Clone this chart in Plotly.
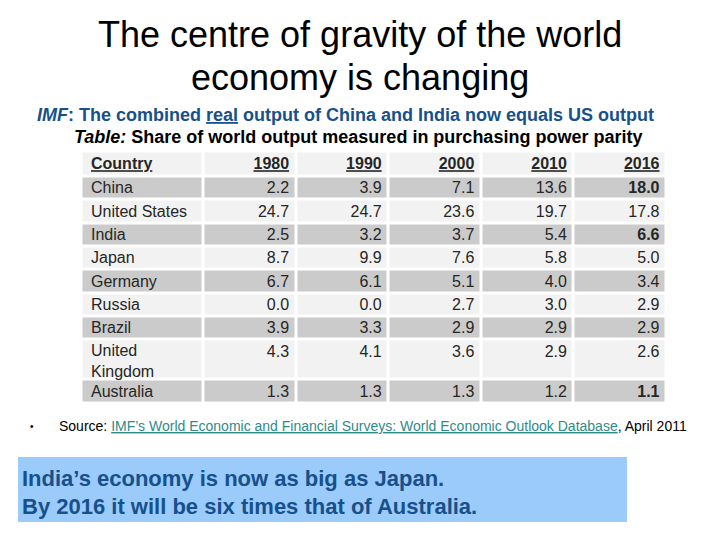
import plotly.graph_objects as go

countries = ["China", "United States", "India", "Japan", "Germany", "Russia",
             "Brazil", "United<br>Kingdom", "Australia"]
years = ["1980", "1990", "2000", "2010", "2016"]
v1980 = [2.2, 24.7, 2.5, 8.7, 6.7, 0.0, 3.9, 4.3, 1.3]
v1990 = [3.9, 24.7, 3.2, 9.9, 6.1, 0.0, 3.3, 4.1, 1.3]
v2000 = [7.1, 23.6, 3.7, 7.6, 5.1, 2.7, 2.9, 3.6, 1.3]
v2010 = [13.6, 19.7, 5.4, 5.8, 4.0, 3.0, 2.9, 2.9, 1.2]
v2016 = [18.0, 17.8, 6.6, 5.0, 3.4, 2.9, 2.9, 2.6, 1.1]
bold_2016 = ["China", "India", "Australia"]

W, H = 720, 540
def px(x): return x / W
def py(y): return 1 - y / H

FONT = "Liberation Sans, Arial, sans-serif"
GRAY = "#cbcbcb"
LIGHT = "#f2f2f2"
TXT = "#262626"

# ---- table geometry (layout only, in pixels) ----
TABLE_LEFT, TABLE_TOP = 81.5, 151.5
col_w = [122] + [92.6] * 5
row_h = [25] + [23.35] * 7 + [40, 23.3]   # header + 9 rows
LINE_H = 23.35
PAD_L, PAD_R = 9.5, 7
DY = 1.2  # small downward nudge of text inside cells

x_edges = [0]
for w in col_w:
    x_edges.append(x_edges[-1] + w)
y_edges = [0]
for h in row_h:
    y_edges.append(y_edges[-1] + h)
TW, TH = x_edges[-1], y_edges[-1]

n = len(countries)
z = [[0] * 6] + [[1 if i % 2 == 0 else 0] * 6 for i in range(n)]

fig = go.Figure()
fig.add_trace(go.Heatmap(
    x=x_edges, y=y_edges, z=z, zmin=0, zmax=1,
    colorscale=[[0, LIGHT], [1, GRAY]], showscale=False,
    xgap=3, ygap=3, hoverinfo="skip",
))

# header texts
hx = [x_edges[0] + PAD_L] + [x_edges[j + 1] - PAD_R for j in range(1, 6)]
hy = [row_h[0] / 2 + DY] * 6
fig.add_trace(go.Scatter(
    x=hx[:1], y=hy[:1], mode="text", text=["<b><u>Country</u></b>"],
    textposition="middle right", textfont=dict(family=FONT, size=16, color=TXT),
    hoverinfo="skip", showlegend=False))
fig.add_trace(go.Scatter(
    x=hx[1:], y=hy[1:], mode="text", text=[f"<b><u>{y}</u></b>" for y in years],
    textposition="middle left", textfont=dict(family=FONT, size=16, color=TXT),
    hoverinfo="skip", showlegend=False))

# country column
cy_mid = [(y_edges[i + 1] + y_edges[i + 2]) / 2 + DY for i in range(n)]
cy_top = [y_edges[i + 1] + LINE_H / 2 + DY for i in range(n)]
cy_country = [m + (1.5 if "<br>" in c else 0) for m, c in zip(cy_mid, countries)]
fig.add_trace(go.Scatter(
    x=[x_edges[0] + PAD_L] * n, y=cy_country, mode="text", text=countries,
    textposition="middle right", textfont=dict(family=FONT, size=16, color=TXT),
    hoverinfo="skip", showlegend=False))

# value columns
for j, vals in enumerate([v1980, v1990, v2000, v2010, v2016]):
    labels = []
    for c, v in zip(countries, vals):
        s = f"{v:.1f}"
        if j == 4 and c.replace("<br>", " ") in bold_2016:
            s = f"<b>{s}</b>"
        labels.append(s)
    fig.add_trace(go.Scatter(
        x=[x_edges[j + 2] - PAD_R] * n, y=cy_top, mode="text", text=labels,
        textposition="middle left", textfont=dict(family=FONT, size=16, color=TXT),
        hoverinfo="skip", showlegend=False))

# Blue callout box
fig.add_shape(type="rect", xref="paper", yref="paper",
              x0=px(18), x1=px(627), y0=py(522), y1=py(457),
              fillcolor="#9acbfa", line=dict(width=0), layer="below")

ann = [
    dict(x=px(360), y=py(35), text="The centre of gravity of the world",
         font=dict(family=FONT, size=36, color="black")),
    dict(x=px(360), y=py(77), text="economy is changing",
         font=dict(family=FONT, size=36, color="black")),
    dict(x=px(345), y=py(114.5),
         text="<b><i>IMF</i>: The combined <u>real</u> output of China and India now equals US output</b>",
         font=dict(family=FONT, size=18, color="#17508a")),
    dict(x=px(358), y=py(136.5),
         text="<b><i>Table:</i> Share of world output measured in purchasing power parity</b>",
         font=dict(family=FONT, size=18, color="black")),
    dict(x=px(32), y=py(426), text="•", font=dict(family=FONT, size=10, color="black")),
    dict(x=px(57), y=py(426), xanchor="left",
         text="Source: <span style='color:#2e8b8b'><u>IMF’s World Economic and Financial Surveys: World Economic Outlook Database</u></span>, April 2011",
         font=dict(family=FONT, size=14, color="black")),
    dict(x=px(20), y=py(478.5), xanchor="left",
         text="<b>India’s economy is now as big as Japan.</b>",
         font=dict(family=FONT, size=22, color="#17508a")),
    dict(x=px(20), y=py(506.5), xanchor="left",
         text="<b>By 2016 it will be six times that of Australia.</b>",
         font=dict(family=FONT, size=22, color="#17508a")),
]
for a in ann:
    a.setdefault("xanchor", "center")
    a.update(xref="paper", yref="paper", yanchor="middle", showarrow=False)
    fig.add_annotation(**a)

fig.update_layout(
    width=W, height=H, margin=dict(l=0, r=0, t=0, b=0),
    paper_bgcolor="white", plot_bgcolor="white", showlegend=False,
    xaxis=dict(visible=False, range=[0, TW], fixedrange=True,
               domain=[px(TABLE_LEFT), px(TABLE_LEFT + TW)]),
    yaxis=dict(visible=False, range=[TH, 0], fixedrange=True,
               domain=[py(TABLE_TOP + TH), py(TABLE_TOP)]),
)
fig.write_html("out.html", post_script="document.body.style.margin='0px';",
               config={"displayModeBar": False})
